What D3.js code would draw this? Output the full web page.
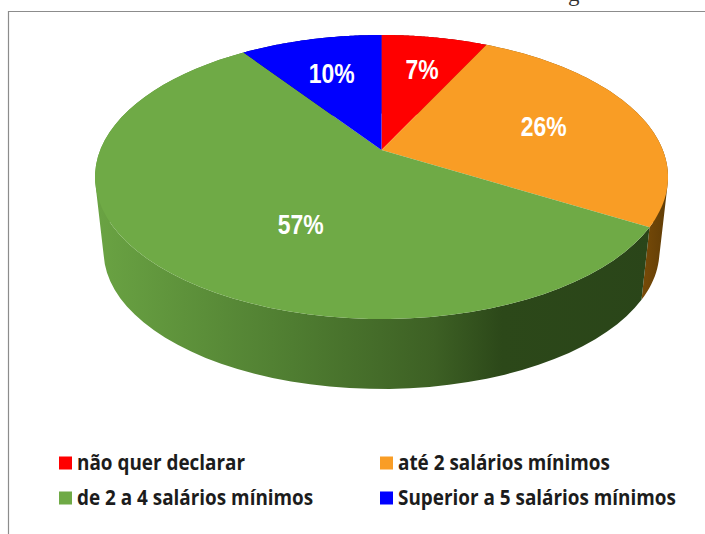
<!doctype html>
<html>
<head>
<meta charset="UTF-8" />
<title>Renda</title>
<style type="text/css">
html, body { margin: 0; padding: 0; background: #fff; }
svg { display: block; }
.pct { font: bold 27px "Liberation Sans", sans-serif; fill: #fff; text-anchor: middle; }
.legend text { font: 700 21px "Open Sans", sans-serif; fill: #1c1c1c; }
</style>
<script src="https://d3js.org/d3.v7.min.js"></script>
</head>
<body>
<div id="chart"></div>
<script>
	var categories = ["não quer declarar", "até 2 salários mínimos", "de 2 a 4 salários mínimos", "Superior a 5 salários mínimos"];
	var values = [7.2, 26.3, 56.9, 9.6];
	var colors = ["#ff0000", "#f99d25", "#6faa46", "#0000ff"];

	var width = 705, height = 534;

	// the pie is a circle seen in perspective, so the apex sits above the rim ellipse centre
	var cx = 381.5, rimA = 281.3, rimB = 136.9, persp = -0.19;
	var topY = 150, bottomY = 225, bottomScale = 0.97;

	function project(angle, r, y0, s) {
		var u = Math.sin(angle) * r,
			v = -Math.cos(angle) * r,
			w = 1 + persp * v;
		return [cx + s * rimA * u / w, y0 + s * rimB * v / w];
	}

	function rim(a0, a1, y0, s) {
		return d3.range(0, 61).map(function(i) {
			return project(a0 + (a1 - a0) * i / 60, 1, y0, s);
		});
	}

	var svg = d3.select("#chart").append("svg")
		.attr("width", width)
		.attr("height", height);

	var defs = svg.append("defs");

	var wallStops = {
		2: [[0, "#6aa343"], [0.35, "#4f7d31"], [0.6, "#3d6024"], [0.72, "#2c4819"], [1, "#2a4519"]],
		1: [[0, "#7a4c08"], [1, "#5f3c06"]],
		0: [[0, "#800000"], [1, "#800000"]],
		3: [[0, "#000080"], [1, "#000080"]]
	};

	d3.range(4).forEach(function(k) {
		var g = defs.append("linearGradient")
			.attr("id", "wall" + k)
			.attr("gradientUnits", "userSpaceOnUse")
			.attr("x1", k == 1 ? 640 : 95).attr("x2", k == 1 ? 668 : 660)
			.attr("y1", 0).attr("y2", 0);
		wallStops[k].forEach(function(s) {
			g.append("stop").attr("offset", s[0]).attr("stop-color", s[1]);
		});
	});

	// frame
	svg.append("path")
		.attr("d", "M8.5,534V11.5H705")
		.attr("fill", "none")
		.attr("stroke", "#8c8c8c")
		.attr("stroke-width", 1.2);

	// tail of the cropped title above the frame
	svg.append("text")
		.attr("x", 568).attr("y", 0.5)
		.style("font", "23px 'Liberation Serif', serif")
		.style("fill", "#333")
		.text("g");

	var pie = d3.pie().sort(null).value(function(d) { return d; });
	var arcs = pie(values);
	var line = d3.line();

	// walls first, the top faces then cover whatever is at the back.
	// all quads of a slice go in one path, same winding, so the sweep fills
	// the silhouette at left and right without seams
	svg.append("g").selectAll("path")
		.data(arcs)
		.enter().append("path")
		.attr("fill", function(d, i) { return "url(#wall" + i + ")"; })
		.attr("d", function(d) {
			var upper = rim(d.startAngle, d.endAngle, topY, 1),
				lower = rim(d.startAngle, d.endAngle, bottomY, bottomScale);
			return d3.range(60).map(function(i) {
				var q = [upper[i], upper[i + 1], lower[i + 1], lower[i]];
				if (d3.polygonArea(q) < 0) q.reverse();
				return line(q) + "Z";
			}).join("");
		});

	svg.append("g").selectAll("path")
		.data(arcs)
		.enter().append("path")
		.attr("d", function(d) {
			return line([[cx, topY]].concat(rim(d.startAngle, d.endAngle, topY, 1))) + "Z";
		})
		.attr("fill", function(d, i) { return colors[i]; });

	// hand nudges from the projected centroid, as the labels were dragged in the original
	var labelNudge = [[3, 0], [-12, 2], [61, 1], [0, 2]];

	svg.append("g").selectAll("text")
		.data(arcs)
		.enter().append("text")
		.attr("class", "pct")
		.attr("transform", function(d, i) {
			var p = project((d.startAngle + d.endAngle) / 2, 0.67, topY, 1);
			return "translate(" + (p[0] + labelNudge[i][0]) + "," + (p[1] + labelNudge[i][1] + 9) + ") scale(0.85,1)";
		})
		.text(function(d) { return d3.format(".0f")(d.value) + "%"; });

	var legendX = d3.scalePoint().domain([0, 1]).range([59, 380]);
	var legendY = d3.scalePoint().domain([0, 1]).range([463, 498]);

	var legend = svg.append("g")
		.attr("class", "legend")
		.selectAll("g")
		.data(categories)
		.enter().append("g")
		.attr("transform", function(d, i) {
			return "translate(" + legendX(i % 2) + "," + legendY(Math.floor(i / 2)) + ")";
		});

	legend.append("rect")
		.attr("y", -6.5)
		.attr("width", 13)
		.attr("height", 13)
		.attr("fill", function(d, i) { return colors[i]; });

	legend.append("text")
		.attr("transform", "translate(18,7) scale(0.9,1)")
		.text(function(d) { return d; });
</script>
</body>
</html>
